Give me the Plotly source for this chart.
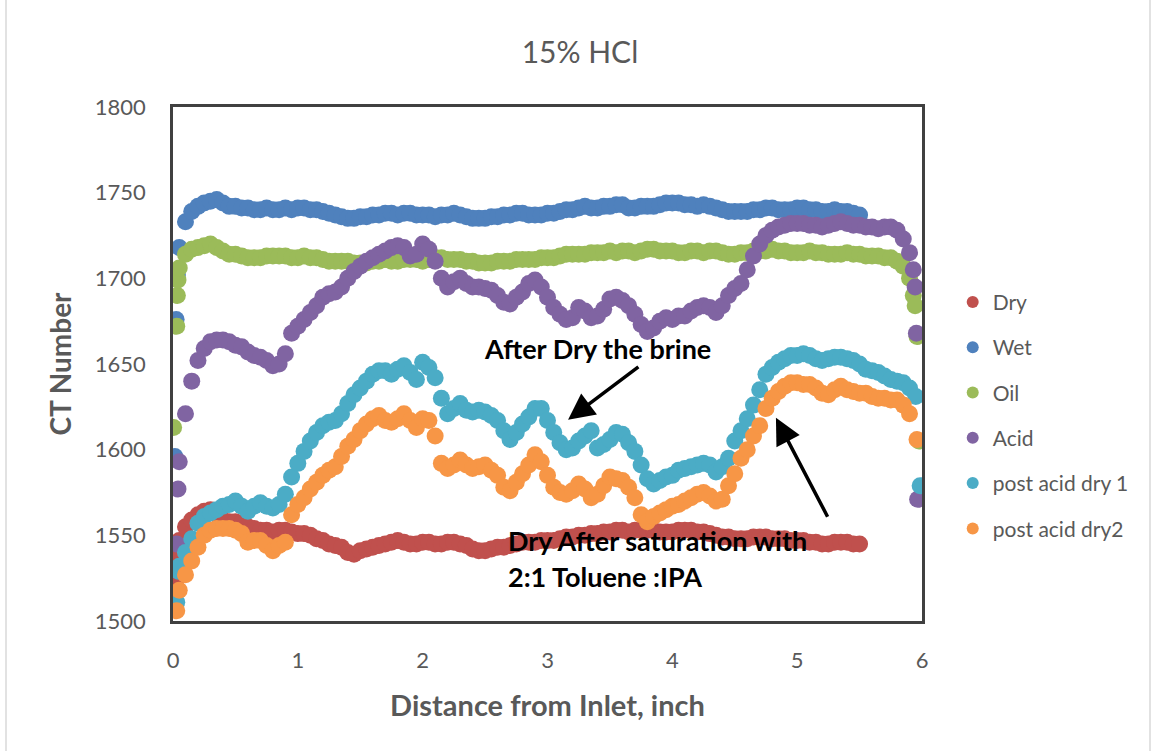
import plotly.graph_objects as go

# Regular sampling positions along the core (inch)
grid = [round(0.05 * i, 2) for i in range(1, 119)]      # 0.05 .. 5.90
grid_short = [round(0.05 * i, 2) for i in range(1, 111)]  # 0.05 .. 5.50

# ---- Dry ----
dry_x = [0.02, 0.035] + grid_short
dry_y = [1523, 1538,
         1547, 1555, 1559, 1562, 1564, 1565, 1562, 1559, 1558, 1558,
         1557, 1555, 1554, 1553, 1553, 1552, 1553, 1553, 1552, 1551,
         1551, 1550, 1548, 1547, 1545, 1544, 1543, 1540, 1539, 1541,
         1542, 1543, 1544, 1545, 1546, 1547, 1546, 1545, 1545, 1546,
         1546, 1545, 1545, 1546, 1546, 1545, 1544, 1542, 1541, 1541,
         1542, 1543, 1543, 1544, 1545, 1546, 1546, 1546, 1547, 1547,
         1547, 1548, 1549, 1549, 1550, 1550, 1551, 1551, 1552, 1552,
         1553, 1553, 1552, 1553, 1553, 1553, 1553, 1552, 1552, 1552,
         1553, 1553, 1553, 1552, 1552, 1551, 1550, 1549, 1549, 1548,
         1548, 1548, 1549, 1549, 1549, 1548, 1548, 1548, 1547, 1547,
         1547, 1546, 1546, 1545, 1545, 1546, 1546, 1546, 1545, 1545]

# ---- Wet ----
wet_x = [0.015, 0.025, 0.035] + grid_short
wet_y = [1596, 1676, 1702,
         1718, 1733, 1739, 1742, 1744, 1745, 1746, 1744, 1742, 1742,
         1741, 1741, 1740, 1740, 1741, 1740, 1740, 1741, 1740, 1741,
         1741, 1740, 1740, 1739, 1738, 1737, 1736, 1735, 1735, 1736,
         1736, 1737, 1737, 1738, 1738, 1737, 1738, 1738, 1737, 1737,
         1737, 1736, 1737, 1737, 1738, 1737, 1736, 1735, 1735, 1735,
         1736, 1736, 1737, 1737, 1738, 1738, 1737, 1737, 1737, 1738,
         1738, 1739, 1740, 1740, 1741, 1742, 1741, 1741, 1742, 1742,
         1743, 1743, 1741, 1741, 1742, 1742, 1742, 1743, 1744, 1744,
         1744, 1743, 1743, 1742, 1743, 1742, 1741, 1740, 1739, 1739,
         1739, 1739, 1740, 1740, 1741, 1741, 1740, 1740, 1740, 1741,
         1741, 1740, 1740, 1739, 1739, 1740, 1739, 1739, 1738, 1737]

# ---- Oil ----
oil_x = [0.005, 0.03, 0.035, 0.04] + grid + [5.93, 5.945, 5.96, 5.975]
oil_y = [1613, 1672, 1690, 1699,
         1706, 1714, 1717, 1718, 1719, 1720, 1718, 1716, 1714, 1714,
         1713, 1712, 1712, 1712, 1713, 1713, 1713, 1713, 1712, 1712,
         1713, 1712, 1712, 1711, 1710, 1710, 1710, 1710, 1709, 1709,
         1709, 1710, 1710, 1711, 1710, 1710, 1711, 1711, 1711, 1710,
         1711, 1712, 1712, 1711, 1711, 1711, 1710, 1710, 1709, 1709,
         1709, 1710, 1710, 1710, 1711, 1711, 1711, 1711, 1712, 1712,
         1712, 1713, 1714, 1714, 1714, 1714, 1715, 1715, 1715, 1716,
         1715, 1716, 1716, 1715, 1716, 1717, 1717, 1716, 1716, 1716,
         1715, 1715, 1716, 1716, 1715, 1716, 1716, 1715, 1714, 1714,
         1715, 1715, 1716, 1716, 1716, 1717, 1716, 1716, 1715, 1715,
         1715, 1716, 1715, 1715, 1714, 1714, 1714, 1715, 1714, 1714,
         1713, 1713, 1713, 1712, 1712, 1710, 1707, 1700,
         1690, 1684, 1666, 1605]

# ---- Acid ----
acid_x = [0.03, 0.04] + grid + [5.93, 5.945, 5.955, 5.965]
acid_y = [1545, 1577,
          1593, 1621, 1640, 1652, 1659, 1663, 1664, 1664, 1663, 1661,
          1660, 1657, 1655, 1654, 1652, 1649, 1650, 1656, 1668, 1672,
          1676, 1680, 1684, 1689, 1691, 1692, 1695, 1700, 1704, 1707,
          1710, 1712, 1714, 1716, 1718, 1719, 1718, 1713, 1714, 1720,
          1717, 1710, 1700, 1695, 1698, 1700, 1697, 1695, 1695, 1694,
          1693, 1690, 1686, 1685, 1689, 1692, 1697, 1699, 1695, 1689,
          1683, 1679, 1676, 1677, 1683, 1681, 1677, 1678, 1682, 1688,
          1689, 1687, 1684, 1679, 1673, 1669, 1671, 1675, 1677, 1676,
          1678, 1678, 1681, 1683, 1684, 1683, 1680, 1684, 1690, 1694,
          1697, 1705, 1713, 1720, 1725, 1728, 1730, 1731, 1732, 1732,
          1732, 1731, 1731, 1730, 1731, 1732, 1733, 1732, 1731, 1731,
          1730, 1730, 1729, 1730, 1730, 1728, 1723, 1715,
          1705, 1695, 1668, 1571]

# ---- post acid dry 1 ----
pad1_x = [0.03, 0.045] + grid + [5.95, 5.985]
pad1_y = [1511, 1529,
          1532, 1540, 1548, 1557, 1561, 1563, 1565, 1567, 1568, 1570,
          1567, 1564, 1567, 1569, 1567, 1566, 1568, 1574, 1584, 1592,
          1599, 1605, 1610, 1614, 1616, 1617, 1621, 1627, 1632, 1636,
          1640, 1644, 1646, 1646, 1644, 1647, 1649, 1645, 1641, 1651,
          1648, 1642, 1630, 1621, 1624, 1627, 1623, 1622, 1623, 1622,
          1620, 1617, 1611, 1606, 1610, 1615, 1619, 1624, 1624, 1617,
          1610, 1604, 1600, 1601, 1605, 1608, 1611, 1601, 1603, 1606,
          1610, 1609, 1604, 1599, 1591, 1583, 1580, 1582, 1584, 1585,
          1588, 1589, 1590, 1591, 1592, 1591, 1587, 1590, 1595, 1605,
          1611, 1618, 1626, 1635, 1644, 1648, 1651, 1653, 1655, 1655,
          1656, 1655, 1653, 1652, 1653, 1654, 1654, 1653, 1652, 1650,
          1647, 1646, 1645, 1643, 1641, 1640, 1639, 1636,
          1631, 1579]

# ---- post acid dry2 ----
pad2_x = [0.03] + grid + [5.96]
pad2_y = [1506,
          1518, 1527, 1535, 1543, 1550, 1553, 1554, 1554, 1554, 1553,
          1551, 1546, 1547, 1547, 1544, 1541, 1544, 1546, 1562, 1568,
          1572, 1577, 1581, 1585, 1588, 1590, 1596, 1602, 1606, 1611,
          1615, 1618, 1620, 1617, 1616, 1618, 1621, 1617, 1613, 1618,
          1617, 1608, 1592, 1589, 1591, 1594, 1591, 1589, 1590, 1591,
          1588, 1585, 1578, 1576, 1581, 1586, 1591, 1597, 1593, 1585,
          1578, 1575, 1574, 1576, 1580, 1577, 1572, 1574, 1579, 1584,
          1583, 1582, 1578, 1572, 1562, 1558, 1561, 1563, 1565, 1567,
          1568, 1570, 1572, 1574, 1575, 1573, 1570, 1571, 1579, 1586,
          1595, 1600, 1608, 1614, 1624, 1630, 1634, 1637, 1639, 1639,
          1638, 1638, 1636, 1633, 1632, 1635, 1637, 1635, 1634, 1633,
          1633, 1631, 1630, 1630, 1629, 1629, 1626, 1621,
          1606]

series = [
    ("Dry", dry_x, dry_y, "#C0504D"),
    ("Wet", wet_x, wet_y, "#4F81BD"),
    ("Oil", oil_x, oil_y, "#9BBB59"),
    ("Acid", acid_x, acid_y, "#8064A2"),
    ("post acid dry 1", pad1_x, pad1_y, "#4BACC6"),
    ("post acid dry2", pad2_x, pad2_y, "#F79646"),
]

x_ticks = [0, 1, 2, 3, 4, 5, 6]
y_ticks = [1500, 1550, 1600, 1650, 1700, 1750, 1800]

FONT = "Lato, 'Open Sans', sans-serif"
GREY = "#595959"

fig = go.Figure()
for name, xs, ys, color in series:
    fig.add_trace(go.Scatter(
        x=xs, y=ys, name=name, mode="markers",
        legendgroup=name,
        marker=dict(size=17, color=color, line=dict(width=0)),
    ))

# annotation texts
note_font = dict(size=27, color="black", family=FONT)
fig.add_annotation(x=3.4, y=1659, text="<b>After Dry the brine</b>",
                   showarrow=False, font=note_font)
fig.add_annotation(x=2.67, y=1547, text="<b>Dry After saturation with</b>",
                   xanchor="left", showarrow=False, font=note_font)
fig.add_annotation(x=2.67, y=1526, text="<b>2:1 Toluene :IPA</b>",
                   xanchor="left", showarrow=False, font=note_font)

# arrows
fig.add_annotation(x=3.165, y=1617.5, ax=3.74, ay=1649, xref="x", yref="y",
                   axref="x", ayref="y", text="", showarrow=True,
                   arrowhead=2, arrowsize=1.5, arrowwidth=3.5, arrowcolor="black")
fig.add_annotation(x=4.83, y=1618.6, ax=5.25, ay=1560, xref="x", yref="y",
                   axref="x", ayref="y", text="", showarrow=True,
                   arrowhead=2, arrowsize=1.5, arrowwidth=3.5, arrowcolor="black")

# chart frame (thin light-grey border)
fig.add_shape(type="line", xref="paper", yref="paper",
              x0=-167 / 749, x1=-167 / 749, y0=-130 / 514, y1=621 / 514,
              line=dict(color="#D9D9D9", width=1.5))
fig.add_shape(type="line", xref="paper", yref="paper",
              x0=228 / 749 + 1, x1=228 / 749 + 1, y0=-130 / 514, y1=621 / 514,
              line=dict(color="#D9D9D9", width=1.5))

fig.update_layout(
    width=1153, height=751,
    margin=dict(l=173, r=231, t=107, b=130),
    paper_bgcolor="white", plot_bgcolor="white",
    font=dict(family=FONT, color=GREY),
    title=dict(text="15% HCl", x=0.503, xref="container", y=1 - 52 / 751,
               yref="container", xanchor="center", yanchor="middle",
               font=dict(size=30, color=GREY, family=FONT)),
    showlegend=True,
    legend=dict(x=1.041, y=0.66, xanchor="left", yanchor="top",
                font=dict(size=21, color=GREY, family=FONT),
                tracegroupgap=15, itemsizing="constant",
                bgcolor="rgba(0,0,0,0)"),
    xaxis=dict(range=[0, 6], tickvals=x_ticks, showgrid=False, zeroline=False,
               showline=True, linecolor="#404040", linewidth=2.5, mirror=True,
               ticks="", ticklabelstandoff=18,
               tickfont=dict(size=22, color=GREY, family=FONT),
               title=dict(text="<b>Distance from Inlet, inch</b>", standoff=24,
                          font=dict(size=29, color=GREY, family=FONT))),
    yaxis=dict(range=[1500, 1800], tickvals=y_ticks, showgrid=False, zeroline=False,
               showline=True, linecolor="#404040", linewidth=2.5, mirror=True,
               ticks="", ticklabelstandoff=20,
               tickfont=dict(size=22, color=GREY, family=FONT),
               title=dict(text="<b>CT Number</b>", standoff=16,
                          font=dict(size=28, color=GREY, family=FONT))),
)

fig.write_html("out.html")
